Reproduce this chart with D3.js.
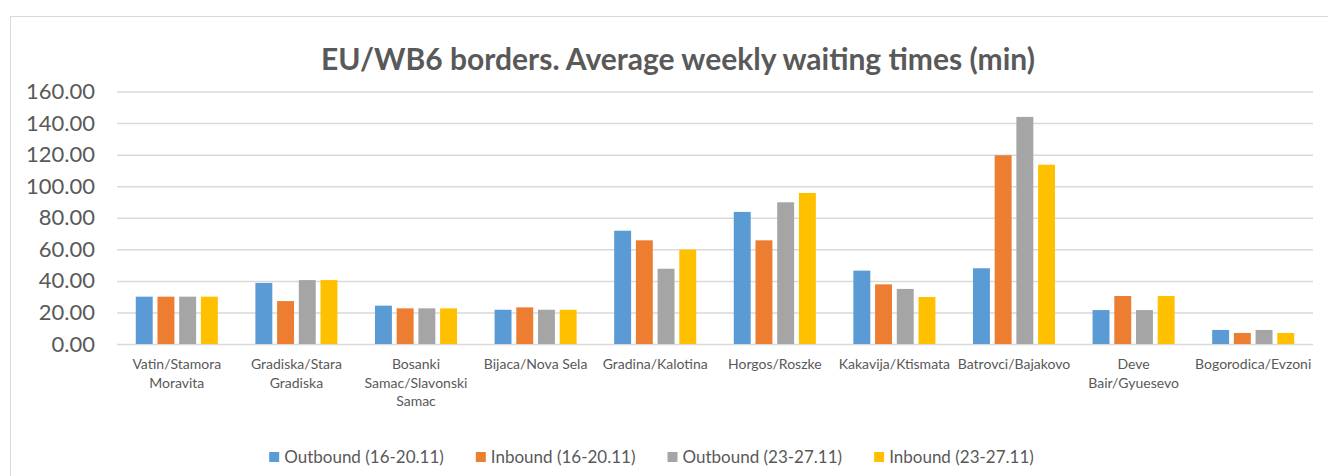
<!DOCTYPE html>
<html>
<head>
<meta charset="utf-8">
<script src="https://cdn.jsdelivr.net/npm/d3@7"></script>
<style>
  body { margin: 0; background: #fff; }
  text { font-family: Lato, "Open Sans", sans-serif; fill: #595959; }
</style>
</head>
<body>
<script>
// chart values
const categories = [
    "Vatin/Stamora Moravita",
    "Gradiska/Stara Gradiska",
    "Bosanki Samac/Slavonski Samac",
    "Bijaca/Nova Sela",
    "Gradina/Kalotina",
    "Horgos/Roszke",
    "Kakavija/Ktismata",
    "Batrovci/Bajakovo",
    "Deve Bair/Gyuesevo",
    "Bogorodica/Evzoni"
];
const seriesNames = ["Outbound (16-20.11)", "Inbound (16-20.11)", "Outbound (23-27.11)", "Inbound (23-27.11)"];
const outbound1 = [30, 38.7, 24.3, 21.7, 71.8, 83.7, 46.5, 48, 21.5, 8.9];
const inbound1 = [30, 27.2, 22.6, 23.2, 65.7, 65.7, 37.8, 119.6, 30.4, 7];
const outbound2 = [30, 40.5, 22.6, 21.7, 47.7, 89.8, 34.9, 143.9, 21.5, 8.9];
const inbound2 = [30, 40.5, 22.6, 21.7, 59.8, 95.7, 29.8, 113.6, 30.4, 7];
const yTicks = [0, 20, 40, 60, 80, 100, 120, 140, 160];
const colors = ["#5B9BD5", "#ED7D31", "#A5A5A5", "#FFC000"];

const series = [outbound1, inbound1, outbound2, inbound2];

const width = 1328, height = 476;
const margin = { top: 91.5, right: 15, bottom: 132, left: 117 };

const svg = d3.select("body")
    .append("svg")
    .attr("width", width)
    .attr("height", height);

svg.append("rect")
    .attr("width", width)
    .attr("height", height)
    .attr("fill", "#fff");

// chart area border (runs off the right and bottom edges)
svg.append("rect")
    .attr("x", 10.5)
    .attr("y", 16.5)
    .attr("width", width + 20)
    .attr("height", height + 20)
    .attr("fill", "none")
    .attr("stroke", "#D9D9D9")
    .attr("stroke-width", 1);

const x0 = d3.scaleBand()
    .domain(categories)
    .range([margin.left, width - margin.right])
    .paddingInner(0.274)
    .paddingOuter(0.137);

const x1 = d3.scaleBand()
    .domain(d3.range(series.length))
    .range([0, x0.bandwidth()])
    .paddingInner(0.22)
    .paddingOuter(0.11);

const y = d3.scaleLinear()
    .domain([0, 160])
    .range([height - margin.bottom, margin.top]);

// gridlines + y labels
const yAxis = d3.axisLeft(y)
    .tickValues(yTicks)
    .tickFormat(d3.format(".2f"))
    .tickSize(-(width - margin.right - margin.left))
    .tickPadding(22);

svg.append("g")
    .attr("transform", `translate(${margin.left},0)`)
    .call(yAxis)
    .call(g => g.select(".domain").remove())
    .call(g => g.selectAll(".tick line")
        .attr("stroke", "#D9D9D9")
        .attr("stroke-width", 1.5))
    .call(g => g.selectAll(".tick text")
        .attr("font-size", 22)
        .attr("fill", "#595959")
        .attr("font-family", "Lato, sans-serif"));

// bars
const groups = svg.append("g")
    .selectAll("g")
    .data(categories)
    .join("g")
    .attr("transform", d => `translate(${x0(d)},0)`);

groups.selectAll("rect")
    .data((d, i) => series.map((s, k) => ({ k, v: s[i] })))
    .join("rect")
    .attr("x", d => x1(d.k))
    .attr("width", x1.bandwidth())
    .attr("y", d => y(d.v))
    .attr("height", d => y(0) - y(d.v))
    .attr("fill", d => colors[d.k]);

// category labels, wrapped to the band width
const catG = svg.append("g");
catG.selectAll("text")
    .data(categories)
    .join("text")
    .attr("text-anchor", "middle")
    .attr("font-size", 14)
    .attr("x", d => x0(d) + x0.bandwidth() / 2)
    .attr("y", y(0) + 25)
    .each(function(d) {
        wrap(d3.select(this), d, x0.step() - 4);
    });

function wrap(text, label, maxWidth) {
    const words = label.split(" ");
    const cx = text.attr("x");
    let line = [];
    let tspan = text.append("tspan").attr("x", cx).attr("dy", 0);
    words.forEach(w => {
        line.push(w);
        tspan.text(line.join(" "));
        if (tspan.node().getComputedTextLength() > maxWidth && line.length > 1) {
            line.pop();
            tspan.text(line.join(" "));
            line = [w];
            tspan = text.append("tspan").attr("x", cx).attr("dy", 18.5).text(w);
        }
    });
}

// title
svg.append("text")
    .attr("x", 678)
    .attr("y", 70)
    .attr("text-anchor", "middle")
    .attr("font-size", 30)
    .attr("font-weight", "bold")
    .text("EU/WB6 borders. Average weekly waiting times (min)");

// legend
const legend = svg.append("g");
const items = legend.selectAll("g")
    .data(seriesNames)
    .join("g");

items.append("rect")
    .attr("width", 10)
    .attr("height", 10)
    .attr("y", -5)
    .attr("fill", (d, i) => colors[i]);

items.append("text")
    .attr("x", 15)
    .attr("dy", "0.35em")
    .attr("font-size", 17)
    .text(d => d);

let offset = 0;
items.each(function() {
    const g = d3.select(this);
    g.attr("transform", `translate(${offset},0)`);
    offset += 15 + g.select("text").node().getComputedTextLength() + 32;
});
offset -= 32;
legend.attr("transform", `translate(${651.5 - offset / 2},457)`);
</script>
</body>
</html>
